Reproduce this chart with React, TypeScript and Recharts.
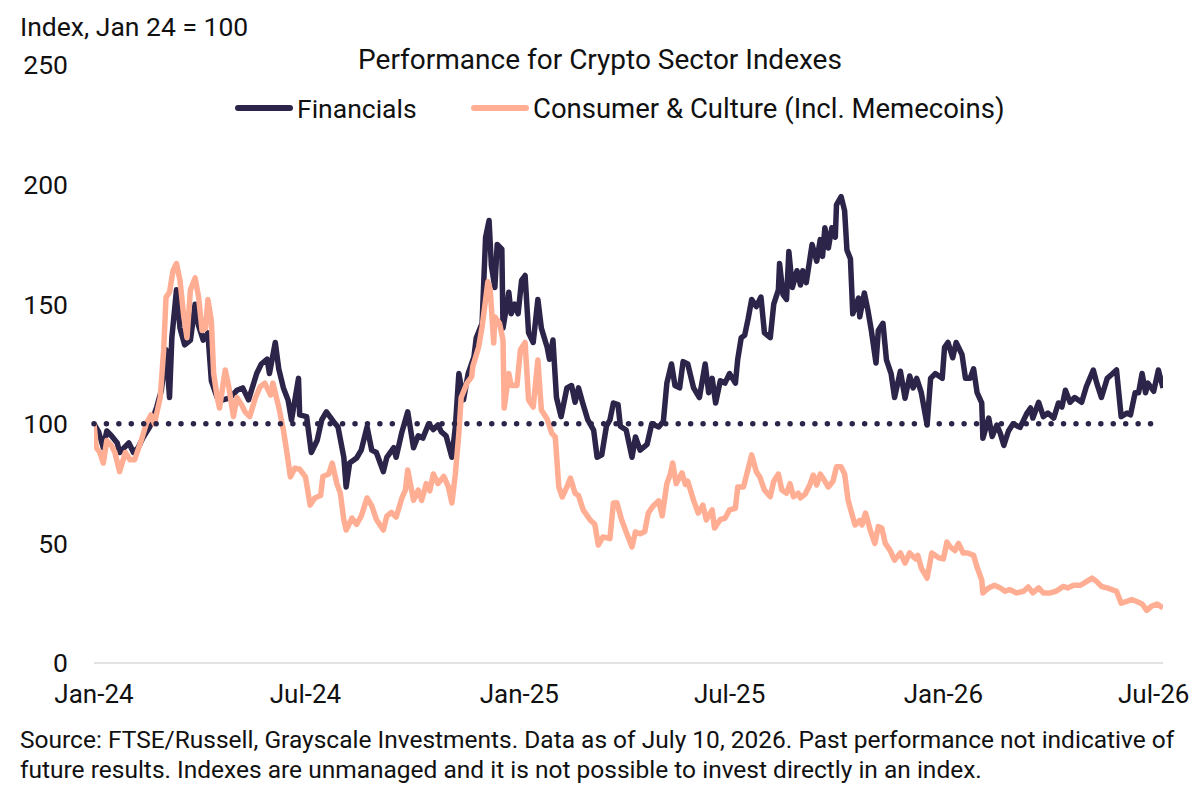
import React from "react";
import { LineChart, Line, XAxis, YAxis, ReferenceLine } from "recharts";

// Days since Jan 1, 2024 and index values (Jan 24 = 100)
const finDays = [0,4,8,11,15,20,22,30,34,38,42,48,54,58,62,65,67,71,74,78,83,87,90,94,98,101,106,111,117,123,128,133,140,144,149,151,156,159,163,167,170,176,177,183,187,192,196,200,206,210,215,217,220,226,230,235,239,243,249,252,258,260,265,270,275,279,283,288,292,296,299,303,308,311,314,318,322,327,329,334,337,340,342,345,347,351,352,357,359,362,365,368,371,374,378,382,385,390,392,395,398,402,407,411,414,417,421,425,430,433,437,441,444,447,451,453,458,463,466,470,476,480,486,490,493,497,500,504,507,511,516,521,526,529,532,535,539,543,547,552,554,557,560,563,566,570,574,577,582,585,589,590,593,596,598,601,605,608,610,613,618,622,625,627,629,632,635,638,639,643,646,648,651,653,658,659,663,666,669,673,675,679,682,686,689,694,698,702,705,708,712,717,720,724,730,732,735,739,742,747,750,754,757,760,764,765,770,773,777,780,783,787,791,797,803,806,808,813,817,821,826,830,833,836,840,844,850,854,860,863,867,872,876,880,884,889,892,896,899,902,905,907,912,916,920];
const finValues = [100,96.6,90,97,95,92,88,92,88,90,94,98.7,107,114,131,111,136,156,140,133,135,150,141,135,138,118,111,110,110.8,114,115,110,121,125,127,121,134,123,115,110,101.6,119,103.7,103,88,93,101.6,105,101,98.7,86,73.6,83.6,85.7,89,98.7,89,88,80,86,90,86,96.6,105,90,95,94,100,97.6,99.5,96.6,95,86,98.7,121,110,121,128,136,142,178,185,166,157,175,173,140,155,146,150,146,160,162,138,134,152,140,132,127,135,111,103,115,116,109,115,108,101.6,97.4,86,87,99,101.6,108.7,108,99,97.4,86,94.5,89,91.4,100,98.7,101,117,125,116,115,126,125,115,111,125,113,119,108.7,118,117,121,117,127,136,137,144,152,149,153,138,136,150,156,167,154,152,172,157,164,158,164,159,175,168,177,170,182,173.5,182,178,191.5,195,189,172.6,169,146,152.6,144.7,154.7,147.6,139,125.4,139,142,126.7,121,111,122,110.7,120,115,119,113,99.5,119,121,119,132,134,127.6,134,129,119,119,123,113,108.7,94,102.4,94.7,99.5,96,91,97,100,98.5,104.5,106.6,102.4,109,103,104.5,102.4,108.7,107,114,109,111,109,115.5,122.5,117,111,119,120.7,122.5,103,104.5,103.7,113,113,121,113,117,113.6,122.5,115];

const conDays = [0,2,5,8,11,15,18,22,27,31,35,40,45,49,52,57,60,62,65,68,71,74,77,80,83,87,90,93,96,98,101,103,106,108,113,116,120,123,127,130,134,139,143,147,152,154,159,163,166,169,173,177,182,186,190,195,197,202,205,209,212,215,217,222,226,230,235,239,243,249,252,256,260,265,268,270,275,279,282,286,289,292,296,301,305,308,311,314,316,321,325,326,331,334,337,339,341,344,345,349,352,353,357,359,364,367,371,374,378,382,385,390,394,397,400,403,407,410,414,417,421,427,431,434,438,444,447,450,454,458,463,466,470,474,477,481,486,489,493,496,498,501,506,509,511,516,520,524,527,532,534,539,543,547,552,554,559,562,566,570,573,577,582,585,589,592,596,599,602,606,608,612,616,619,622,625,629,632,636,639,643,646,649,652,655,659,661,664,668,672,675,678,681,685,689,694,698,702,707,709,712,717,721,727,731,734,737,741,744,748,752,757,760,764,765,770,775,780,784,788,794,800,804,808,813,817,823,828,834,838,843,849,854,859,863,867,872,876,880,884,889,893,897,902,906,910,915,920];
const conValues = [100,90,88,83.6,93,91,88,80,88,85,85,92,100,103.7,100,111,131,153,155,164,167,160,146,136,156,161,153,139,140,152,143,121,111,106.6,122.5,115.5,103,111,108,105,103,111,115.5,117,112,117,107,97.4,88,77.8,81.5,81,77.8,66,69,70,78,79,83.6,75,71,59.8,55.6,60.6,58,61.4,69,65.8,60,55.6,61.4,63,61,69,72.3,80.7,68,72.3,68,75,72,79,75,78,73.6,66.9,79,96,111,117,119.6,124,132,140.5,151.8,159.4,156,133.8,144.7,142,135,106.6,121,116,116,131,134,110,107,126.7,105.8,102,96,94.5,73.6,69.4,73.6,77.3,71,70,64,59.8,58,49.3,52.7,52,66.9,67,60,54.8,48.5,54.8,54,55,62.7,65.5,67.8,61.5,75,79,83.6,75,79.5,74.6,76,68,62.7,66,59.8,64,56.4,60,60.5,64,64.7,73.6,73.6,79.4,87,80,77.8,72.3,69.5,76,79,72.3,71,75,69.5,71,69,70.6,74.4,78.6,74.4,79,76,73.6,76,82,82,79,68,62.7,57.7,59.6,57.7,62.7,55.6,50,57,56.4,50,47.2,43,46,41.8,46,43.5,45,39.7,35.5,46,44,43.5,50.6,48.5,47,50,46,46,45,40,34.7,29.3,31.4,32.5,31.4,30,30.7,29.3,30,31.8,29.3,31.4,29.3,29.3,30,32,31.4,32.5,32.5,34,35.5,34,32,31.4,30.7,30,25,25.8,26.5,25.8,24.7,22,23.7,24.7,23];

const baseDays = [0, 910];
const baseValue = 100;

const tickDates = ["2024-01-01", "2024-07-01", "2025-01-01", "2025-07-01", "2026-01-01", "2026-07-01"];
const tickLabels = ["Jan-24", "Jul-24", "Jan-25", "Jul-25", "Jan-26", "Jul-26"];
const yTicks = [0, 50, 100, 150, 200, 250];

const seriesNames = ["Financials", "Consumer & Culture (Incl. Memecoins)"];
const seriesColors = ["#2c2449", "#ffae94"];

const START = Date.UTC(2024, 0, 1);
const DAY = 86400000;
const toT = (d: number) => START + d * DAY;

const finData = finDays.map((d, i) => ({ t: toT(d), v: finValues[i] }));
const conData = conDays.map((d, i) => ({ t: toT(d), v: conValues[i] }));
const xTicks = tickDates.map((s) => Date.parse(s + "T00:00:00Z"));
const labelOf = (t: number) => tickLabels[xTicks.indexOf(t)] ?? "";

const FONT = "Roboto, 'Noto Sans', sans-serif";
const legendLeft = [235, 471];
const legendSize = [26.5, 27.5];

export default function App() {
  return (
    <div style={{ position: "absolute", left: 0, top: 0, width: 1200, height: 796, background: "#fff", fontFamily: FONT, color: "#111" }}>
      <div style={{ position: "absolute", left: 20, top: 11, fontSize: 26.5, lineHeight: "32px" }}>Index, Jan 24 = 100</div>
      <div style={{ position: "absolute", left: 0, width: 1200, top: 43, textAlign: "center", fontSize: 28, lineHeight: "34px" }}>
        Performance for Crypto Sector Indexes
      </div>
      {seriesNames.map((n, i) => (
        <div key={n} style={{ position: "absolute", left: legendLeft[i], top: 91, height: 34, display: "flex", alignItems: "center", fontSize: legendSize[i], whiteSpace: "nowrap" }}>
          <svg width={58} height={10} style={{ marginRight: 4 }}>
            <line x1={3} y1={5} x2={55} y2={5} stroke={seriesColors[i]} strokeWidth={6} strokeLinecap="round" />
          </svg>
          <span>{n}</span>
        </div>
      ))}
      <div style={{ position: "absolute", left: 0, top: 0 }}>
        <LineChart width={1200} height={796} margin={{ top: 65, right: 37, bottom: 103, left: 0 }}>
          <XAxis
            dataKey="t"
            type="number"
            scale="time"
            domain={[toT(0), toT(920)]}
            ticks={xTicks}
            tickFormatter={labelOf}
            allowDataOverflow
            height={30}
            tickLine={false}
            tickSize={0}
            tickMargin={22}
            axisLine={{ stroke: "#d9d9d9", strokeWidth: 1.5 }}
            tick={{ fill: "#111", fontSize: 26, fontFamily: FONT }}
            interval={0}
          />
          <YAxis
            type="number"
            domain={[0, 250]}
            ticks={yTicks}
            width={94}
            tickLine={false}
            axisLine={false}
            tickSize={0}
            tickMargin={26}
            tick={{ fill: "#111", fontSize: 26.5, fontFamily: FONT }}
          />
          <Line data={finData} dataKey="v" name={seriesNames[0]} stroke={seriesColors[0]} strokeWidth={5.5} dot={false} strokeLinejoin="round" isAnimationActive={false} />
          <Line data={conData} dataKey="v" name={seriesNames[1]} stroke={seriesColors[1]} strokeWidth={5.5} dot={false} strokeLinejoin="round" isAnimationActive={false} />
          <ReferenceLine
            segment={[{ x: toT(baseDays[0]), y: baseValue }, { x: toT(baseDays[1]), y: baseValue }]}
            stroke={seriesColors[0]}
            strokeWidth={5.5}
            strokeLinecap="round"
            strokeDasharray="0 12.43"
          />
        </LineChart>
      </div>
      <div style={{ position: "absolute", left: 20, top: 725, width: 1175, fontSize: 24.5, lineHeight: "30px" }}>
        Source: FTSE/Russell, Grayscale Investments. Data as of July 10, 2026. Past performance not indicative of future results. Indexes are unmanaged and it is not possible to invest directly in an index.
      </div>
    </div>
  );
}
